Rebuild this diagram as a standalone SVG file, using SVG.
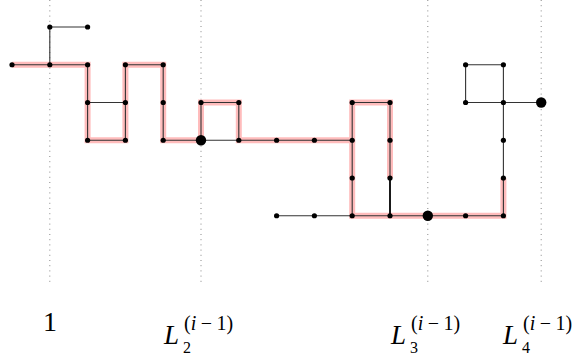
<svg xmlns="http://www.w3.org/2000/svg" width="576" height="356" viewBox="0 0 576 356">
<style>
.guide{stroke:#888;stroke-width:1;stroke-dasharray:1 4.2;fill:none}
.hl{stroke:#ffbcbc;stroke-width:6;fill:none;stroke-linejoin:miter;stroke-linecap:butt}
.ed{stroke:#333;stroke-width:1.1;fill:none}
.edb{stroke:#000;stroke-width:1.8;fill:none}
.n{fill:#000}
.t{font-family:"Liberation Serif","DejaVu Serif",serif;fill:#000}
.it{font-style:italic}
</style>
<rect width="576" height="356" fill="#fff"/>
<g id="guides">
<line class="guide" x1="49.8" y1="0" x2="49.8" y2="282"/>
<line class="guide" x1="201" y1="0" x2="201" y2="282"/>
<line class="guide" x1="427.8" y1="0" x2="427.8" y2="282"/>
<line class="guide" x1="541.2" y1="0" x2="541.2" y2="282"/>
</g>
<g id="highlight">
<polyline class="hl" points="12,64.75 87.6,64.75 87.6,140.25 125.4,140.25 125.4,64.75 163.2,64.75 163.2,140.25 201,140.25 201,102.5 238.8,102.5 238.8,140.25 352.2,140.25 352.2,102.5 390,102.5 390,178"/>
<polyline class="hl" points="352.2,140.25 352.2,215.75 503.4,215.75 503.4,178"/>
</g>
<g id="connectors">
<polyline class="ed" points="12,64.75 87.6,64.75 87.6,140.25 125.4,140.25 125.4,64.75 163.2,64.75 163.2,140.25 201,140.25 201,102.5 238.8,102.5 238.8,140.25 352.2,140.25 352.2,102.5 390,102.5 390,178"/>
<polyline class="ed" points="352.2,140.25 352.2,215.75 503.4,215.75 503.4,178"/>
<polyline class="ed" points="87.6,27 49.8,27 49.8,64.75"/>
<line class="ed" x1="87.6" y1="102.5" x2="125.4" y2="102.5"/>
<line class="ed" x1="201" y1="140.25" x2="238.8" y2="140.25"/>
<line class="edb" x1="390" y1="178" x2="390" y2="215.75"/>
<line class="ed" x1="276.6" y1="215.75" x2="352.2" y2="215.75"/>
<polyline class="ed" points="465.6,102.5 465.6,64.75 503.4,64.75 503.4,178"/>
<line class="ed" x1="465.6" y1="102.5" x2="541.2" y2="102.5"/>
</g>
<g id="nodes">
<circle class="n" cx="49.8" cy="27" r="2.6"/>
<circle class="n" cx="87.6" cy="27" r="2.6"/>
<circle class="n" cx="12" cy="64.75" r="2.6"/>
<circle class="n" cx="49.8" cy="64.75" r="2.6"/>
<circle class="n" cx="87.6" cy="64.75" r="2.6"/>
<circle class="n" cx="125.4" cy="64.75" r="2.6"/>
<circle class="n" cx="163.2" cy="64.75" r="2.6"/>
<circle class="n" cx="87.6" cy="102.5" r="2.6"/>
<circle class="n" cx="125.4" cy="102.5" r="2.6"/>
<circle class="n" cx="163.2" cy="102.5" r="2.6"/>
<circle class="n" cx="201" cy="102.5" r="2.6"/>
<circle class="n" cx="238.8" cy="102.5" r="2.6"/>
<circle class="n" cx="87.6" cy="140.25" r="2.6"/>
<circle class="n" cx="125.4" cy="140.25" r="2.6"/>
<circle class="n" cx="163.2" cy="140.25" r="2.6"/>
<circle class="n" cx="201" cy="140.25" r="5.2"/>
<circle class="n" cx="238.8" cy="140.25" r="2.6"/>
<circle class="n" cx="276.6" cy="140.25" r="2.6"/>
<circle class="n" cx="314.4" cy="140.25" r="2.6"/>
<circle class="n" cx="352.2" cy="140.25" r="2.6"/>
<circle class="n" cx="352.2" cy="102.5" r="2.6"/>
<circle class="n" cx="390" cy="102.5" r="2.6"/>
<circle class="n" cx="390" cy="140.25" r="2.6"/>
<circle class="n" cx="352.2" cy="178" r="2.6"/>
<circle class="n" cx="390" cy="178" r="2.6"/>
<circle class="n" cx="276.6" cy="215.75" r="2.6"/>
<circle class="n" cx="314.4" cy="215.75" r="2.6"/>
<circle class="n" cx="352.2" cy="215.75" r="2.6"/>
<circle class="n" cx="390" cy="215.75" r="2.6"/>
<circle class="n" cx="427.8" cy="215.75" r="5.2"/>
<circle class="n" cx="465.6" cy="215.75" r="2.6"/>
<circle class="n" cx="503.4" cy="215.75" r="2.6"/>
<circle class="n" cx="503.4" cy="178" r="2.6"/>
<circle class="n" cx="503.4" cy="140.25" r="2.6"/>
<circle class="n" cx="503.4" cy="102.5" r="2.6"/>
<circle class="n" cx="465.6" cy="102.5" r="2.6"/>
<circle class="n" cx="465.6" cy="64.75" r="2.6"/>
<circle class="n" cx="503.4" cy="64.75" r="2.6"/>
<circle class="n" cx="541.2" cy="102.5" r="5.2"/>
</g>
<g id="labels">
<g id="label-1"><text class="t" x="50" y="331" font-size="28" text-anchor="middle">1</text></g>
<g id="label-L2">
<text class="t it" x="164" y="344" font-size="27">L</text>
<text class="t" x="183" y="353" font-size="16">2</text>
<text class="t" x="184" y="330" font-size="20">(<tspan class="it">i</tspan><tspan dx="4.5">−</tspan><tspan dx="4.5">1)</tspan></text>
</g>
<g id="label-L3">
<text class="t it" x="391" y="344" font-size="27">L</text>
<text class="t" x="410" y="353" font-size="16">3</text>
<text class="t" x="411" y="330" font-size="20">(<tspan class="it">i</tspan><tspan dx="4.5">−</tspan><tspan dx="4.5">1)</tspan></text>
</g>
<g id="label-L4">
<text class="t it" x="503" y="344" font-size="27">L</text>
<text class="t" x="522" y="353" font-size="16">4</text>
<text class="t" x="523" y="330" font-size="20">(<tspan class="it">i</tspan><tspan dx="4.5">−</tspan><tspan dx="4.5">1)</tspan></text>
</g>
</g>
</svg>
